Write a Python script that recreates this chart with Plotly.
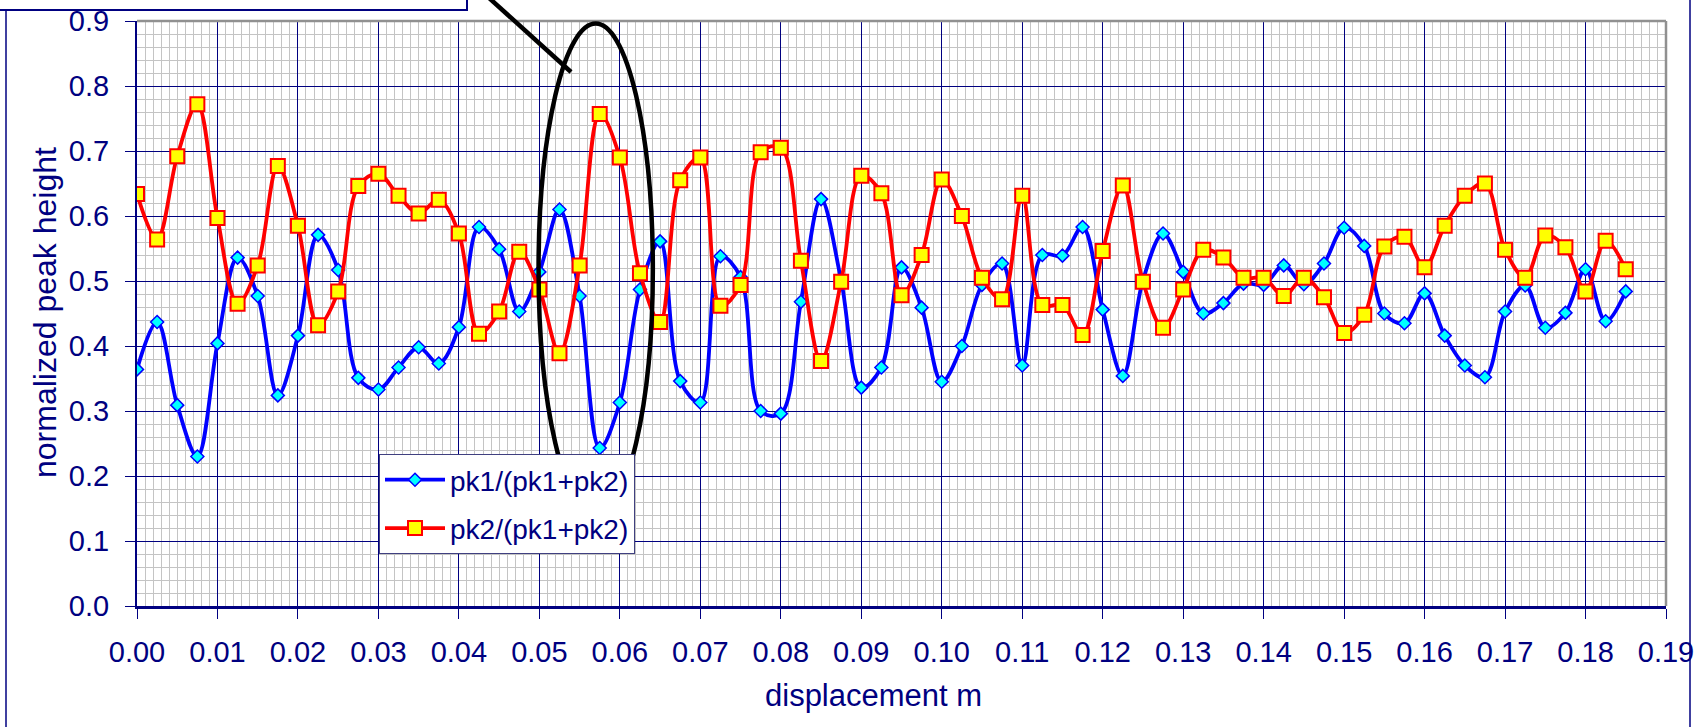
import plotly.graph_objects as go

# ---------------- data ----------------
displacement = [
    0.0000, 0.0025, 0.0050, 0.0075, 0.0100, 0.0125, 0.0150, 0.0175, 0.0200, 0.0225,
    0.0250, 0.0275, 0.0300, 0.0325, 0.0350, 0.0375, 0.0400, 0.0425, 0.0450, 0.0475,
    0.0500, 0.0525, 0.0550, 0.0575, 0.0600, 0.0625, 0.0650, 0.0675, 0.0700, 0.0725,
    0.0750, 0.0775, 0.0800, 0.0825, 0.0850, 0.0875, 0.0900, 0.0925, 0.0950, 0.0975,
    0.1000, 0.1025, 0.1050, 0.1075, 0.1100, 0.1125, 0.1150, 0.1175, 0.1200, 0.1225,
    0.1250, 0.1275, 0.1300, 0.1325, 0.1350, 0.1375, 0.1400, 0.1425, 0.1450, 0.1475,
    0.1500, 0.1525, 0.1550, 0.1575, 0.1600, 0.1625, 0.1650, 0.1675, 0.1700, 0.1725,
    0.1750, 0.1775, 0.1800, 0.1825, 0.1850,
]

pk1_ratio = [
    0.364, 0.437, 0.309, 0.230, 0.404, 0.536, 0.477, 0.324, 0.416, 0.571,
    0.517, 0.351, 0.333, 0.367, 0.398, 0.373, 0.429, 0.583, 0.549, 0.453,
    0.514, 0.610, 0.477, 0.243, 0.313, 0.487, 0.561, 0.346, 0.313, 0.538,
    0.506, 0.300, 0.296, 0.468, 0.626, 0.501, 0.336, 0.367, 0.521, 0.459,
    0.345, 0.400, 0.494, 0.527, 0.370, 0.540, 0.539, 0.583, 0.456, 0.354,
    0.501, 0.573, 0.514, 0.450, 0.466, 0.496, 0.494, 0.524, 0.495, 0.527,
    0.582, 0.554, 0.450, 0.435, 0.481, 0.416, 0.370, 0.352, 0.453, 0.493,
    0.428, 0.451, 0.518, 0.438, 0.484,
]

pk2_ratio = [
    0.634, 0.564, 0.692, 0.772, 0.597, 0.465, 0.524, 0.677, 0.585, 0.432,
    0.484, 0.646, 0.665, 0.631, 0.604, 0.625, 0.573, 0.419, 0.453, 0.545,
    0.487, 0.389, 0.524, 0.757, 0.690, 0.512, 0.437, 0.655, 0.690, 0.462,
    0.494, 0.698, 0.705, 0.531, 0.377, 0.499, 0.662, 0.635, 0.478, 0.540,
    0.656, 0.600, 0.505, 0.472, 0.631, 0.463, 0.463, 0.417, 0.546, 0.647,
    0.499, 0.428, 0.487, 0.548, 0.536, 0.505, 0.505, 0.477, 0.505, 0.475,
    0.420, 0.448, 0.553, 0.568, 0.521, 0.585, 0.631, 0.650, 0.548, 0.505,
    0.570, 0.552, 0.484, 0.562, 0.518,
]

series_names = ["pk1/(pk1+pk2)", "pk2/(pk1+pk2)"]
x_title = "displacement m"
y_title = "normalized peak height"

# ---------------- styling ----------------
NAVY = "#000080"
FONT_FAMILY = "Liberation Sans Narrow, Arial Narrow, Liberation Sans, Arial"
TICK_FONT = dict(family=FONT_FAMILY, size=29, color=NAVY)

W, H = 1696, 727
ML, MR, MT, MB = 137, 30, 21, 121
PW, PH = W - ML - MR, H - MT - MB


def px_to_paper(px, py):
    return (px - ML) / PW, (H - MB - py) / PH


fig = go.Figure()

fig.add_trace(go.Scatter(
    x=displacement, y=pk1_ratio, name=series_names[0], mode="lines+markers",
    line=dict(color="#0000FF", width=3.8, shape="spline", smoothing=1.0),
    marker=dict(symbol="diamond", size=10, color="#00FFFF", line=dict(color="#0000FF", width=1.5)),
    legendgroup="a",
))
fig.add_trace(go.Scatter(
    x=displacement, y=pk2_ratio, name=series_names[1], mode="lines+markers",
    line=dict(color="#FF0000", width=3.8, shape="spline", smoothing=1.0),
    marker=dict(symbol="square", size=14, color="#FFFF00", line=dict(color="#FF0000", width=2)),
    legendgroup="b",
))

shapes = []
# outer chart frame (left / right sides visible)
fx_l = px_to_paper(6, 0)[0]
fx_r = px_to_paper(1690, 0)[0]
shapes.append(dict(type="line", xref="paper", yref="paper", x0=fx_l, x1=fx_l,
                   y0=px_to_paper(0, 10)[1], y1=px_to_paper(0, 740)[1],
                   line=dict(color=NAVY, width=1.5), layer="above"))
shapes.append(dict(type="line", xref="paper", yref="paper", x0=fx_r, x1=fx_r,
                   y0=px_to_paper(0, -10)[1], y1=px_to_paper(0, 740)[1],
                   line=dict(color=NAVY, width=1.5), layer="above"))
# top-left text box (cut off at the top)
bx0, by0 = px_to_paper(-5, -30)
bx1, by1 = px_to_paper(467, 10)
shapes.append(dict(type="rect", xref="paper", yref="paper", x0=bx0, y0=by0, x1=bx1, y1=by1,
                   line=dict(color=NAVY, width=2), fillcolor="white", layer="above"))
# plot area top/right border (grey)
shapes.append(dict(type="line", xref="paper", yref="paper", x0=0, x1=1, y0=1, y1=1,
                   line=dict(color="#909090", width=2.5), layer="above"))
shapes.append(dict(type="line", xref="paper", yref="paper", x0=1, x1=1, y0=0, y1=1,
                   line=dict(color="#909090", width=2.5), layer="above"))
# highlighting ellipse
ELLIPSE = dict(x0=0.0499, x1=0.0641, y0=0.140, y1=0.896)
shapes.append(dict(type="circle", xref="x", yref="y", **ELLIPSE,
                   line=dict(color="black", width=4.5), layer="above"))
# pointer line
lx0, ly0 = px_to_paper(488, -3)
lx1, ly1 = px_to_paper(571, 72)
shapes.append(dict(type="line", xref="paper", yref="paper", x0=lx0, y0=ly0, x1=lx1, y1=ly1,
                   line=dict(color="black", width=4.5), layer="above"))

# axis titles placed as annotations
ytx, yty = px_to_paper(45, 313)
xtx, xty = px_to_paper(873, 695)
annotations = [
    dict(text=y_title, xref="paper", yref="paper", x=ytx, y=yty, xanchor="center", yanchor="middle",
         textangle=-90, showarrow=False, font=dict(family="Liberation Sans, Arial", size=32, color=NAVY)),
    dict(text=x_title, xref="paper", yref="paper", x=xtx, y=xty, xanchor="center", yanchor="middle",
         showarrow=False, font=dict(family="Liberation Sans, Arial", size=31, color=NAVY)),
]

fig.update_layout(
    width=W, height=H,
    margin=dict(l=ML, r=MR, t=MT, b=MB, pad=0, autoexpand=False),
    paper_bgcolor="white", plot_bgcolor="white",
    shapes=shapes,
    annotations=annotations,
    showlegend=True,
    legend=dict(
        x=px_to_paper(379, 0)[0], y=px_to_paper(0, 454)[1], xanchor="left", yanchor="top",
        bgcolor="white", bordercolor="#404080", borderwidth=1,
        font=dict(family="Liberation Sans, Arial", size=28, color=NAVY),
        tracegroupgap=9, itemwidth=60,
    ),
    xaxis=dict(
        range=[0, 0.19], dtick=0.01, tick0=0, tickformat=".2f", automargin=False,
        showgrid=True, gridcolor=NAVY, gridwidth=1,
        minor=dict(dtick=0.001, showgrid=True, gridcolor="#c4c4c4", gridwidth=1),
        showline=True, linecolor=NAVY, linewidth=3,
        ticks="outside", ticklen=10, tickcolor=NAVY, tickwidth=1,
        ticklabelstandoff=8,
        tickfont=TICK_FONT, zeroline=False,
    ),
    yaxis=dict(
        range=[0, 0.9], dtick=0.1, tick0=0, tickformat=".1f", automargin=False,
        showgrid=True, gridcolor=NAVY, gridwidth=1,
        minor=dict(dtick=0.02, showgrid=True, gridcolor="#c4c4c4", gridwidth=1),
        showline=True, linecolor=NAVY, linewidth=2,
        ticks="outside", ticklen=10, tickcolor=NAVY, tickwidth=1,
        ticklabelstandoff=10,
        tickfont=TICK_FONT, zeroline=False,
    ),
)

fig.write_html("out.html")
